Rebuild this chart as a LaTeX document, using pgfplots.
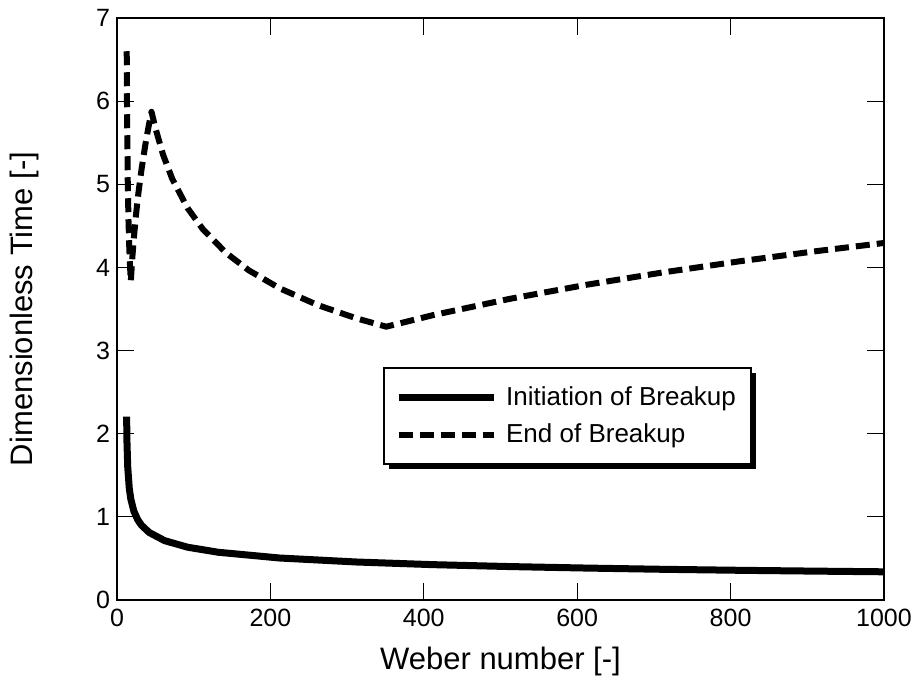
\documentclass[border=0pt]{standalone}
\usepackage{pgfplots}
\pgfplotsset{compat=1.18}
\usepackage{fontspec}
\setmainfont{Liberation Sans}
\usetikzlibrary{shadows}
\makeatletter
\tikzset{no preactions/.code={\let\tikz@preactions\pgfutil@empty}}
\makeatother
\begin{document}
\begin{tikzpicture}
\begin{axis}[
  scale only axis,
  width=383.5pt, height=291pt,
  at={(0,0)}, anchor=south west,
  xmin=0, xmax=1000, ymin=0, ymax=7,
  xtick={0,200,...,1000}, ytick={0,1,...,7},
  tick align=inside, tick pos=both,
  major tick length=8.5pt,
  axis line style={line width=0.6pt},
  every tick/.style={line width=0.5pt, black},
  /pgf/number format/assume math mode=true,
  /pgf/number format/1000 sep={},
  tick label style={font=\fontsize{12.5}{14}\selectfont},
  xticklabel style={yshift=-1pt},
  xlabel={Weber number [-]},
  ylabel={Dimensionless Time [-]},
  label style={font=\fontsize{15.5}{18}\selectfont},
  xlabel style={at={(axis description cs:0.5,-0.1065)}, anchor=center},
  ylabel style={at={(axis description cs:-0.12,0.5)}, anchor=center, rotate=0},
  legend cell align=left,
  legend style={at={(axis cs:347,2.80)}, anchor=north west,
    draw=black, line width=1pt, fill=white,
    drop shadow={shadow xshift=2.5pt, shadow yshift=-2.5pt, fill=black, opacity=1},
    font=\fontsize{13}{15}\selectfont,
    inner xsep=5.5pt, inner ysep=7pt, row sep=4pt},
  legend image code/.code={\draw[#1, no preactions] (0pt,0pt) -- (47.5pt,0pt); \path[no preactions] (50pt,0pt);},
]
\addplot[black, line width=3.5pt, line join=round] coordinates {
(12.55,2.206) (13,1.900) (14,1.598) (16,1.344) (18,1.214) (22,1.068)
(27,0.965) (32,0.898) (42,0.812) (62,0.714) (92,0.635) (132,0.574)
(212,0.505) (312,0.457) (412,0.425) (512,0.402) (612,0.384) (712,0.369)
(812,0.357) (912,0.347) (1000,0.339)};
\addlegendentry{Initiation of Breakup}
\addplot[black, line width=3pt, line join=round, dash pattern=on 7pt off 3.5pt] coordinates {
(12.68,6.60) (13,6.00) (14,5.045) (15,4.559) (16,4.243) (17,4.013) (18,3.834)
(20,4.120) (22,4.357) (25,4.652) (28,4.900) (32,5.181) (37,5.478) (41,5.686) (45,5.872)
(50,5.679) (60,5.357) (72,5.066) (92,4.714) (112,4.459) (142,4.176) (172,3.964)
(212,3.749) (262,3.546) (312,3.388) (351,3.287)
(412,3.426) (512,3.622) (612,3.791) (712,3.940) (812,4.074) (912,4.196) (1000,4.294)};
\addlegendentry{End of Breakup}
\end{axis}
\pgfresetboundingbox
\path[use as bounding box] (-58.5pt,-41.5pt) rectangle (402pt,300pt);
\end{tikzpicture}
\end{document}
